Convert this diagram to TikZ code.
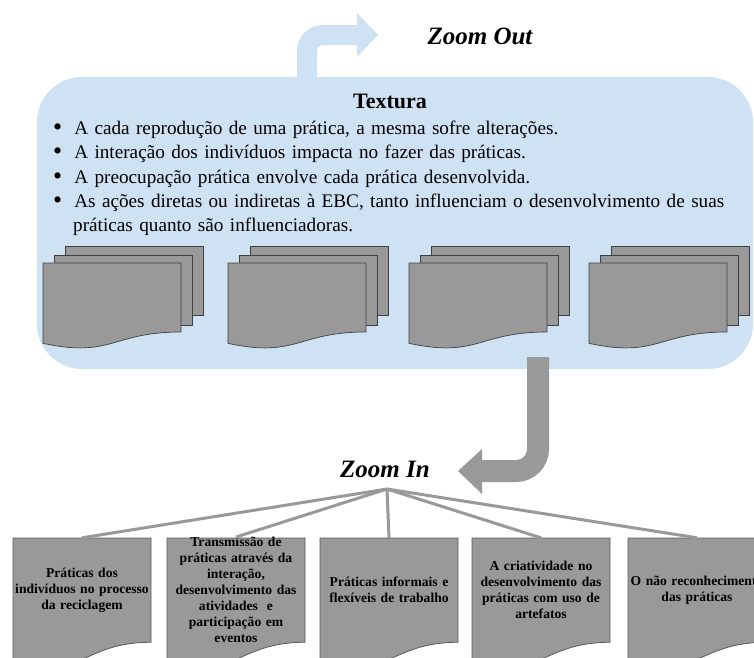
\documentclass[tikz,border=0pt]{standalone}
\usepackage{fontspec}
\setmainfont{Liberation Serif}
\definecolor{lblue}{RGB}{207,226,243}
\definecolor{dgray}{RGB}{153,153,153}
\definecolor{edgegray}{RGB}{64,64,64}
\definecolor{boxedge}{RGB}{90,90,90}
\newcommand{\docshape}[5][]{%
  \filldraw[#1] (#2,#3) -- (#2+#4,#3) -- (#2+#4,#3+0.802*#5)
    .. controls (#2+0.5*#4,#3+0.802*#5) and (#2+0.5*#4,#3+1.1075*#5) ..
    (#2,#3+0.934*#5) -- cycle;}
\newcommand{\docstack}[1]{%
  \filldraw[docst] (#1+22,246) rectangle (#1+160,315);
  \filldraw[docst] (#1+11,255) rectangle (#1+149,325);
  \docshape[docst]{#1}{263}{138}{86}}
\begin{document}
\begin{tikzpicture}[x=1pt,y=-1pt,
  docst/.style={fill=dgray, draw=edgegray, line width=0.7pt},
  boxst/.style={fill=dgray, draw=boxedge, line width=0.8pt},
  btext/.style={minimum width=138pt, minimum height=104pt, text width=134pt,
    align=center, inner sep=0pt, font=\fontsize{13.6}{16}\selectfont\bfseries},
  zoomlbl/.style={font=\fontsize{25}{30}\selectfont\bfseries\itshape, inner sep=0pt, anchor=base},
  conn/.style={draw=dgray, line width=3pt}]
\useasboundingbox (0,0) rectangle (754,657);
% zoom out arrow
\coordinate (zo1) at (307,100);
\coordinate (zo2) at (307,35);
\coordinate (zo3) at (360,35);
\draw[lblue, line width=20pt, rounded corners=16pt] (zo1) -- (zo2) -- (zo3);
\fill[lblue] (357,13) -- (378,35) -- (357,57) -- cycle;
\node[zoomlbl] (zoomout) at (480,44) {Zoom Out};
% main box
\fill[lblue, rounded corners=45pt] (37,77) rectangle (753,369);
\node[font=\fontsize{22}{26}\selectfont\bfseries, inner sep=0pt, anchor=base] (title) at (390,108) {Textura};
\node[anchor=north west, inner sep=0pt, text width=688pt,
  font=\fontsize{19.2}{24.3}\selectfont] (list) at (50,110) {%
\begin{list}{\raisebox{-0.05em}{\scalebox{1.35}{\textbullet}}}{\setlength\leftmargin{23pt}\setlength\labelwidth{8pt}%
  \setlength\labelsep{12pt}\setlength\itemsep{0pt}\setlength\parsep{0pt}%
  \setlength\topsep{0pt}\setlength\partopsep{0pt}}
\item A cada reprodução de uma prática, a mesma sofre alterações.
\item A interação dos indivíduos impacta no fazer das práticas.
\item A preocupação prática envolve cada prática desenvolvida.
\item As ações diretas ou indiretas à EBC, tanto influenciam o desenvolvimento de suas\linebreak
práticas quanto são influenciadoras.
\end{list}};
% document stacks
\docstack{43}
\docstack{228}
\docstack{409}
\docstack{589}
% zoom in arrow
\coordinate (zi1) at (538,357);
\coordinate (zi2) at (538,471);
\coordinate (zi3) at (478,471);
\draw[dgray, line width=22pt, rounded corners=22pt] (zi1) -- (zi2) -- (zi3);
\fill[dgray] (482,449) -- (458,471) -- (482,494) -- cycle;
\node[zoomlbl] (zoomin) at (385,477) {Zoom In};
\coordinate (apex) at (387,489);
% bottom boxes
\docshape[boxst]{13}{538}{138}{130}
\docshape[boxst]{167}{538}{138}{130}
\docshape[boxst]{320}{538}{138}{130}
\docshape[boxst]{472}{538}{138}{130}
\docshape[boxst]{628}{538}{138}{130}
\node[btext] (b1) at (82,590) {Práticas dos\\indivíduos no processo\\da reciclagem};
\node[btext] (b2) at (236,590) {Transmissão de\\práticas através da\\interação,\\desenvolvimento das\\atividades~ e\\participação em\\eventos};
\node[btext] (b3) at (389,590) {Práticas informais e\\flexíveis de trabalho};
\node[btext] (b4) at (541,590) {A criatividade no\\desenvolvimento das\\práticas com uso de\\artefatos};
\node[btext] (b5) at (697,590) {O não reconhecimento\\das práticas};
\draw[conn] (apex) -- (b1.north);
\draw[conn] (apex) -- (b2.north);
\draw[conn] (apex) -- (b3.north);
\draw[conn] (apex) -- (b4.north);
\draw[conn] (apex) -- (b5.north);
\end{tikzpicture}
\end{document}
